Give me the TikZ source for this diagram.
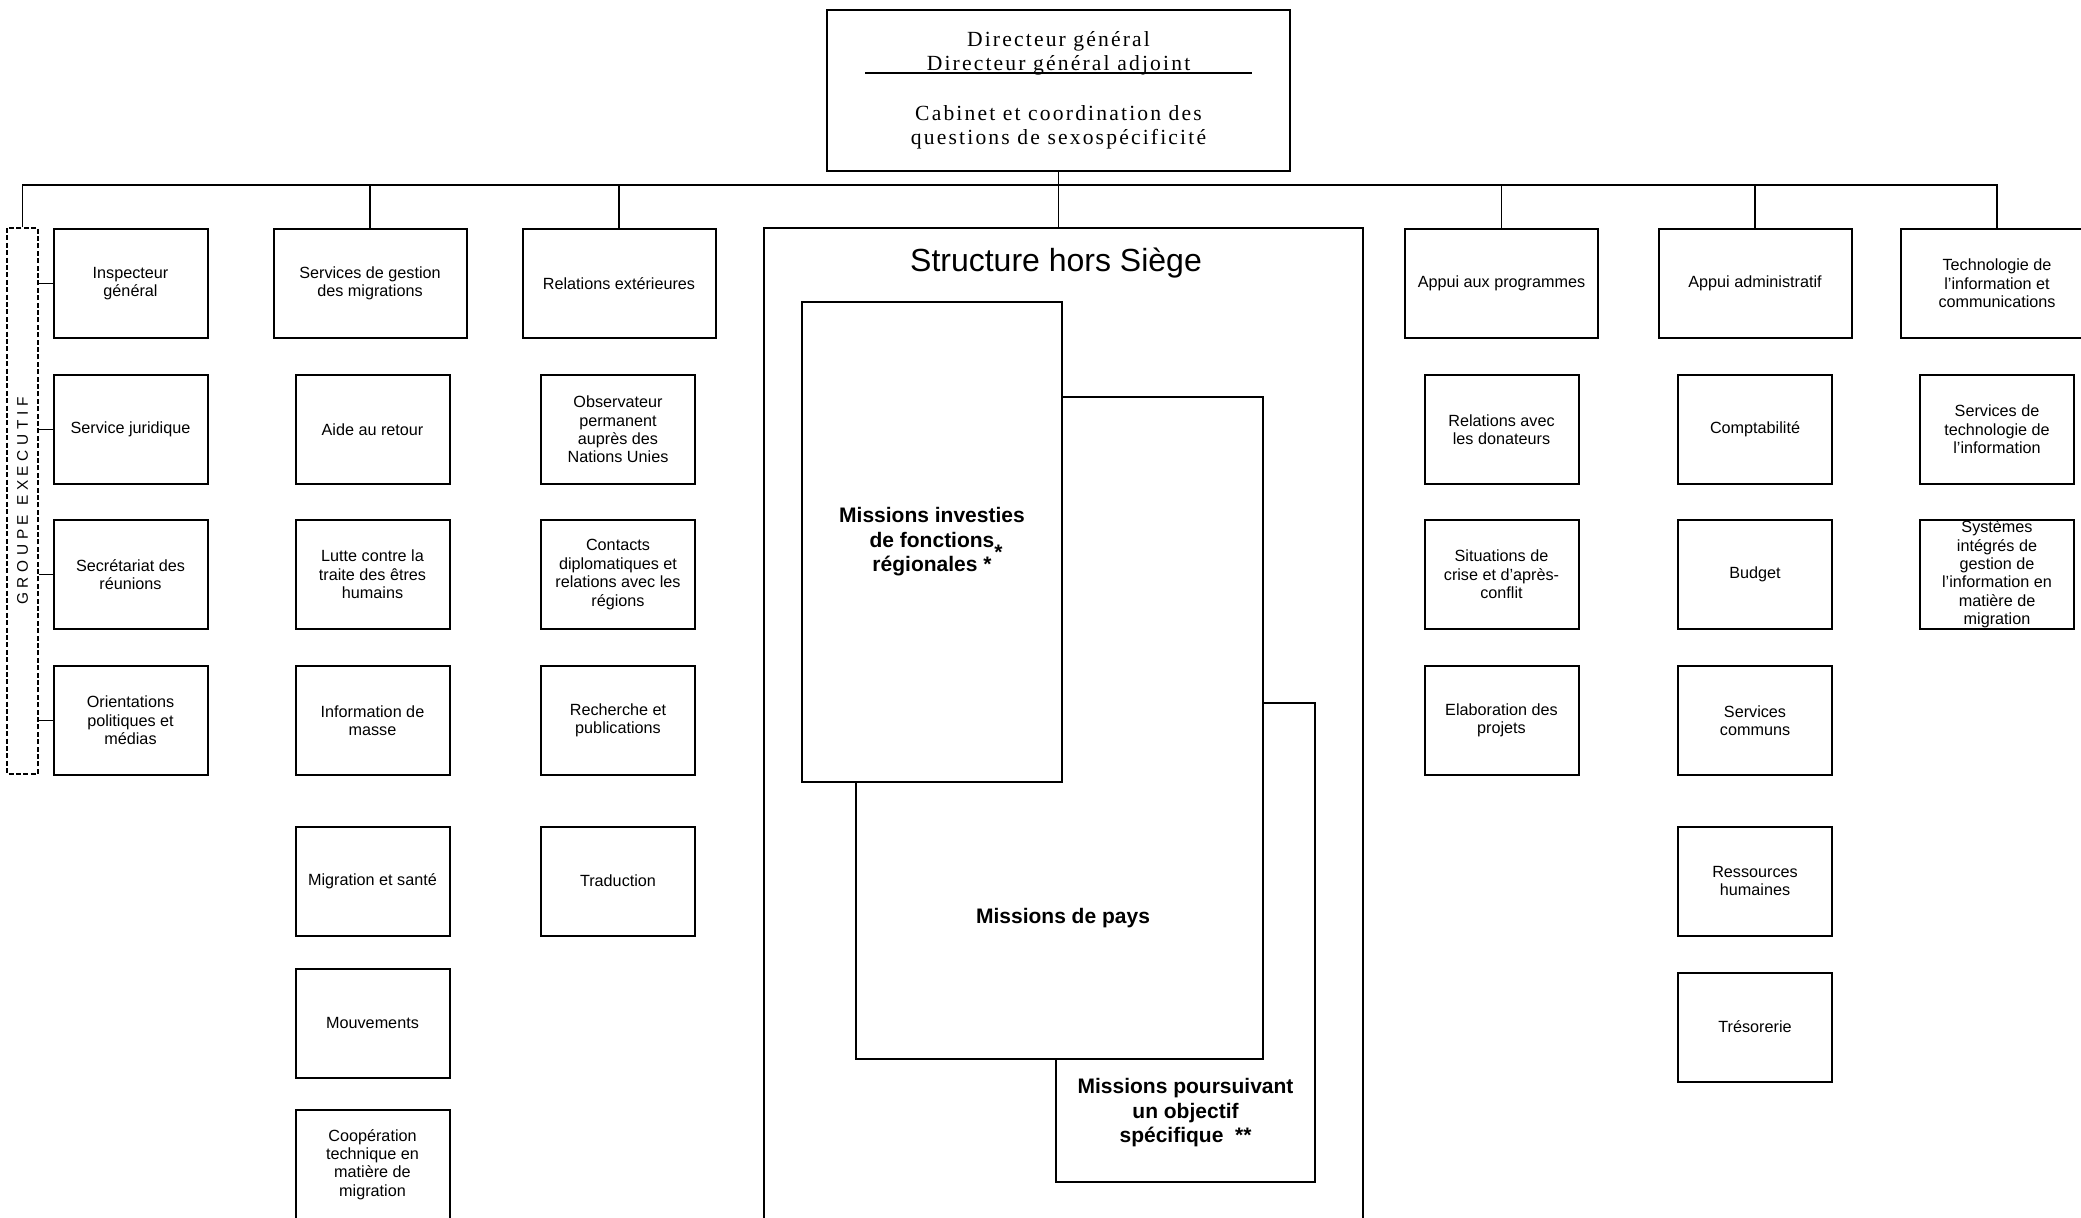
\documentclass[tikz,border=0pt]{standalone}
\usepackage{fontspec}
\setmainfont{Liberation Serif}
\setsansfont{Liberation Sans}

\tikzset{
  unit/.style={draw, line width=1pt, fill=white, inner sep=0pt, align=center,
    font=\sffamily\fontsize{8.1}{9.2}\selectfont, minimum width=77pt, minimum height=54.5pt},
  headunit/.style={unit, minimum width=96.5pt},
  mission/.style={draw, line width=0.75pt, fill=white, inner sep=0pt},
  missiontext/.style={align=center, font=\sffamily\bfseries\fontsize{10.5}{12.25}\selectfont},
  link/.style={line width=0.9pt}
}

\begin{document}
\begin{tikzpicture}[x=0.5pt, y=-0.5pt]
        \useasboundingbox (0,0) rectangle (2081,1218);
        \clip (0,0) rectangle (2081,1218);
        % direction
        \node[draw, line width=1pt, minimum width=231.5pt, minimum height=80.5pt, align=center,
          font=\fontsize{10.8}{12}\selectfont\addfontfeature{LetterSpace=10}] (dg) at (1058.5,90.5)
          {Directeur général\\Directeur général adjoint\\[13pt]Cabinet et coordination des\\questions de sexospécificité};
        \draw[line width=0.8pt] (865,73) -- (1252,73);
        \coordinate (bus) at (1058.5,185);
        % groupe executif
        \node[draw, dashed, dash pattern=on 2.5pt off 1.2pt, line width=0.7pt, rotate=90, inner sep=0pt,
          minimum width=273pt, minimum height=15.5pt,
          font=\sffamily\fontsize{7.7}{8}\selectfont\addfontfeature{LetterSpace=30}] (ge) at (22.5,501) {GROUPE EXECUTIF};
        \foreach \n/\y/\lbl in {ig/283.5/{Inspecteur\\général}, sj/429.5/{Service juridique},
            sr/574.5/{Secrétariat des\\réunions}, op/720.5/{Orientations\\politiques et\\médias}} {
            \node[unit] (\n) at (130.5,\y) {\lbl};
            \draw[link] (ge.south |- \n.west) -- (\n.west);
        }
        % services de gestion des migrations
        \node[headunit] (gm) at (370,283.5) {Services de gestion\\des migrations};
        \foreach \n/\y/\lbl in {ar/429.5/{Aide au retour}, lt/574.5/{Lutte contre la\\traite des êtres\\humains},
            im/720.5/{Information de\\masse}, mg/881/{Migration et santé}, mv/1023/{Mouvements},
            ct/1164.5/{Coopération\\technique en\\matière de\\migration}}
            \node[unit] (\n) at (372.5,\y) {\lbl};
        % relations exterieures
        \node[headunit] (re) at (619,283.5) {Relations extérieures};
        \foreach \n/\y/\lbl in {ob/429.5/{Observateur\\permanent\\auprès des\\Nations Unies},
            cd/574.5/{Contacts\\diplomatiques et\\relations avec les\\régions},
            rp/720.5/{Recherche et\\publications}, tr/881/{Traduction}}
            \node[unit] (\n) at (618,\y) {\lbl};
        % structure hors siege
        \node[draw, line width=1pt, minimum width=299.5pt, minimum height=520pt] (hs) at (1063.5,748) {};
        \node[font=\sffamily\fontsize{16}{19}\selectfont] (hst) at (1056,263) {Structure hors Siège};
        \node[mission, minimum width=129.5pt, minimum height=239.5pt] (msp) at (1185.5,942.5) {};
        \node[mission, minimum width=203.5pt, minimum height=331pt] (mpy) at (1059.5,728) {};
        \node[mission, missiontext, minimum width=130pt, minimum height=240pt] (mrg) at (932,542)
          {Missions investies\\de fonctions\rlap{\smash{\raisebox{-0.6em}{*}}}\\régionales *};
        \node[missiontext] (mpyt) at (1063,918) {Missions de pays};
        \node[missiontext] (mspt) at (1185.5,1113) {Missions poursuivant\\un objectif\\spécifique\ \ **};
        % appui aux programmes
        \node[headunit] (pa) at (1501.5,283.5) {Appui aux programmes};
        \foreach \n/\y/\lbl in {rd/429.5/{Relations avec\\les donateurs}, sc/574.5/{Situations de\\crise et d'après-\\conflit},
            ep/720.5/{Elaboration des\\projets}}
            \node[unit] (\n) at (1501.5,\y) {\lbl};
        % appui administratif
        \node[headunit] (aa) at (1755,283.5) {Appui administratif};
        \foreach \n/\y/\lbl in {cp/429.5/{Comptabilité}, bu/574.5/{Budget}, scm/720.5/{Services\\communs},
            rh/881/{Ressources\\humaines}, ts/1027/{Trésorerie}}
            \node[unit] (\n) at (1755,\y) {\lbl};
        % technologie
        \node[headunit] (tg) at (1997,283.5) {Technologie de\\l'information et\\communications};
        \node[unit] (st) at (1997,429.5) {Services de\\technologie de\\l'information};
        \node[unit] (si) at (1997,574.5) {Systèmes\\intégrés de\\gestion de\\l'information en\\matière de\\migration};
        % links
        \draw[link] (dg.south) -- (dg.south |- hs.north);
        \draw[link] (ge.east) -- (ge.east |- bus) -- (tg.north |- bus) -- (tg.north);
        \foreach \n in {gm, re, pa, aa}
            \draw[link] (\n.north) -- (\n.north |- bus);
\end{tikzpicture}
\end{document}
